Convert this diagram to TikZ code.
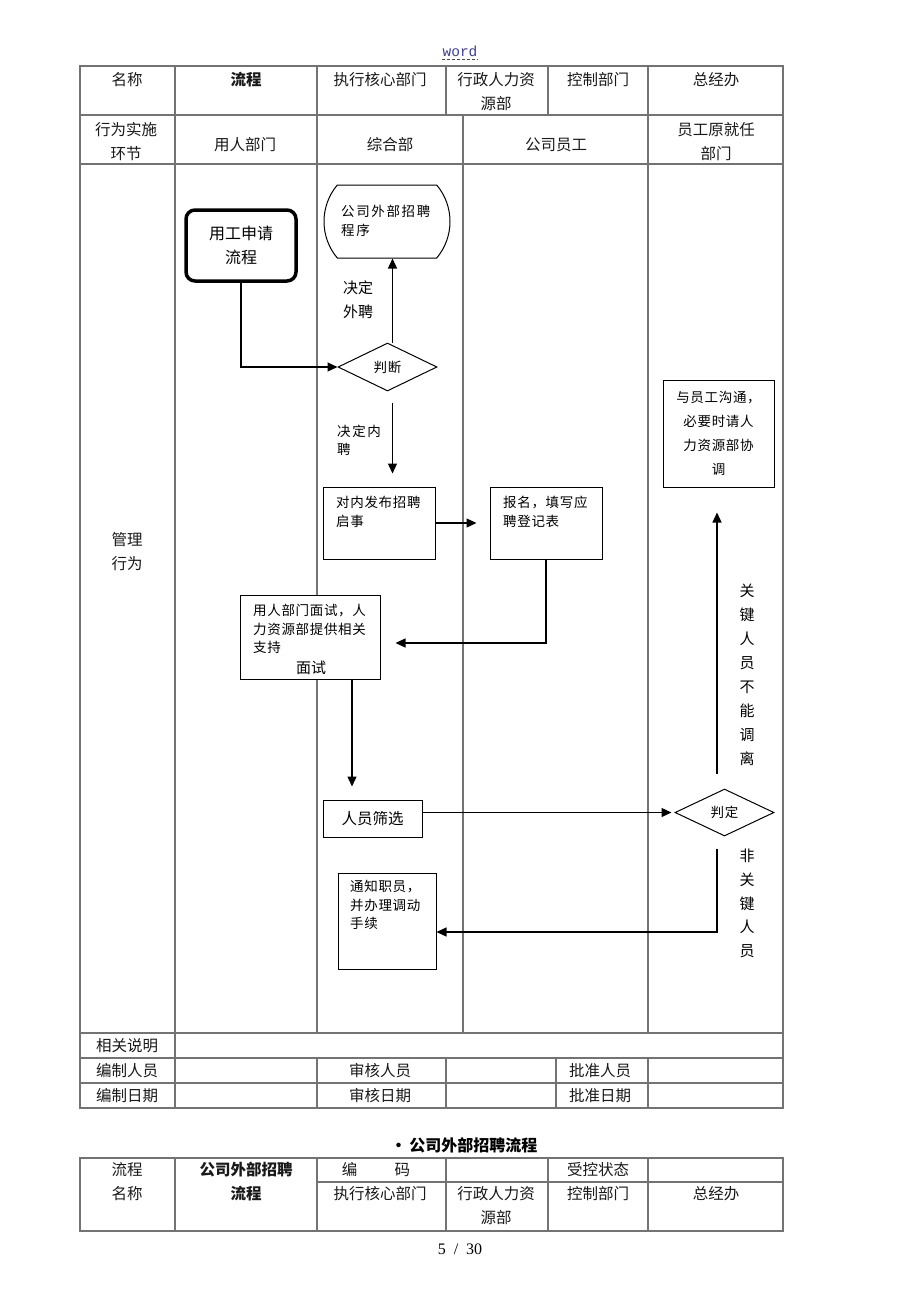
\documentclass[tikz,border=0pt]{standalone}
\usepackage{fontspec}
\setmainfont{Liberation Serif}
\setmonofont{Liberation Mono}
\newfontfamily\hei{Noto Sans CJK SC}
\newfontfamily\song[LetterSpace=5]{Noto Sans CJK SC}
\newfontfamily\songw[LetterSpace=12]{Noto Sans CJK SC}
\usetikzlibrary{arrows.meta, shapes.geometric, shapes.misc, positioning}

\definecolor{wordblue}{RGB}{60,60,160}

\tikzset{
    tblline/.style={draw=black!55, line width=1.1pt},
    cell/.style={inner sep=0pt, align=center, text=black!90, font=\hei\fontsize{15.5}{24}\selectfont},
    boldcell/.style={cell, font=\hei\bfseries\fontsize{15.5}{24}\selectfont},
    box/.style={draw, fill=white, line width=1pt, inner sep=0pt},
    boxtext/.style={anchor=north west, inner sep=0pt, align=left, font=\song\fontsize{13.5}{18.5}\selectfont},
    decide/.style={diamond, draw, fill=white, line width=1pt, inner sep=0pt, font=\song\fontsize{13.5}{15}\selectfont},
    flow/.style={line width=1.3pt, -{Triangle[length=10pt, width=9pt]}},
    sidenote/.style={inner sep=0pt, align=center, font=\hei\fontsize{15}{24}\selectfont},
}

\begin{document}
\begin{tikzpicture}[x=1pt, y=-1pt]
    \fill[white] (0,0) rectangle (920,1302);

    \node[font=\ttfamily\fontsize{14.5}{16}\selectfont, text=wordblue, inner sep=0pt] (mark) at (460,51) {word};
    \draw[wordblue, line width=0.6pt, dash pattern=on 3pt off 2pt] ([yshift=-3pt]mark.south west) -- ([yshift=-3pt]mark.south east);

    \draw[tblline] (80,66) rectangle (783,1108);
    \draw[tblline] (80,115) -- (783,115);
    \draw[tblline] (80,164) -- (783,164);
    \draw[tblline] (80,1033) -- (783,1033);
    \draw[tblline] (80,1058) -- (783,1058);
    \draw[tblline] (80,1083) -- (783,1083);
    \draw[tblline] (175,66) -- (175,1108);
    \draw[tblline] (317,66) -- (317,1033);
    \draw[tblline] (317,1058) -- (317,1108);
    \draw[tblline] (446,66) -- (446,115);
    \draw[tblline] (446,1058) -- (446,1108);
    \draw[tblline] (548,66) -- (548,115);
    \draw[tblline] (556,1058) -- (556,1108);
    \draw[tblline] (463,115) -- (463,1033);
    \draw[tblline] (648,66) -- (648,1033);
    \draw[tblline] (648,1058) -- (648,1108);

    \node[cell] (h1) at (127,80) {名称};
    \node[boldcell] (h2) at (246,80) {流程};
    \node[cell] (h3) at (380,80) {执行核心部门};
    \node[cell] (h4) at (496,92) {行政人力资\\源部};
    \node[cell] (h5) at (598,80) {控制部门};
    \node[cell] (h6) at (716,80) {总经办};
    \node[cell] (r1) at (126,141.5) {行为实施\\环节};
    \node[cell] (r2) at (245,145) {用人部门};
    \node[cell] (r3) at (390,145) {综合部};
    \node[cell] (r4) at (556,145) {公司员工};
    \node[cell] (r5) at (716,141.5) {员工原就任\\部门};
    \node[cell] (gl) at (127,551.5) {管理\\行为};
    \node[cell] (f1) at (127,1046) {相关说明};
    \node[cell] (f2) at (127,1071) {编制人员};
    \node[cell] (f3) at (380,1071) {审核人员};
    \node[cell] (f4) at (600,1071) {批准人员};
    \node[cell] (f5) at (127,1096) {编制日期};
    \node[cell] (f6) at (380,1096) {审核日期};
    \node[cell] (f7) at (600,1096) {批准日期};

    \node[box, rounded corners=9pt, line width=3.5pt, minimum width=110pt, minimum height=71pt, align=center, font=\hei\fontsize{16}{24}\selectfont] (yg) at (241,245.5) {用工申请\\流程};
    \node[box, rounded rectangle, rounded rectangle arc length=80, minimum width=126pt, minimum height=73pt] (wb) at (387,221.5) {};
    \node[boxtext, font=\songw\fontsize{13.5}{18.5}\selectfont] (wbt) at (341,205) {公司外部招聘\\程序};
    \node[decide, minimum width=99pt, minimum height=48pt] (pd) at (387.5,367) {判断};
    \node[box, minimum width=112pt, minimum height=72pt] (nb) at (379,523) {};
    \node[boxtext] (nbt) at (336,496) {对内发布招聘\\启事};
    \node[box, minimum width=112pt, minimum height=72pt] (bm) at (546,523) {};
    \node[boxtext] (bmt) at (503,496) {报名，填写应\\聘登记表};
    \node[box, minimum width=140pt, minimum height=84pt] (ms) at (310,637) {};
    \node[boxtext] (mst) at (253,604) {用人部门面试，人\\力资源部提供相关\\支持};
    \node[inner sep=0pt, font=\hei\fontsize{15}{18}\selectfont] (msl) at (311,668) {面试};
    \node[box, minimum width=99pt, minimum height=37pt, font=\hei\fontsize{15.5}{18}\selectfont] (rs) at (372.5,818.5) {人员筛选};
    \node[decide, minimum width=99pt, minimum height=47pt] (pd2) at (724.5,812.5) {判定};
    \node[box, minimum width=111pt, minimum height=107pt, align=center, font=\song\fontsize{13.5}{24}\selectfont] (gt) at (718.5,433.5) {与员工沟通，\\必要时请人\\力资源部协\\调};
    \node[box, minimum width=98pt, minimum height=96pt] (tz) at (387,921) {};
    \node[boxtext] (tzt) at (350,880) {通知职员，\\并办理调动\\手续};

    \node[sidenote] (wp) at (358,300) {决定\\外聘};
    \node[boxtext, font=\songw\fontsize{13.5}{18}\selectfont] (np) at (337,425) {决定内\\聘};
    \node[sidenote] (kr) at (747,675) {关\\键\\人\\员\\不\\能\\调\\离};
    \node[sidenote, font=\hei\fontsize{15}{23.75}\selectfont] (fk) at (747,903.5) {非\\关\\键\\人\\员};

    \draw[flow] (yg.south) |- (pd.west);
    \draw[flow] ([xshift=5pt]pd.north) -- ([xshift=5pt]pd.north |- wb.south);
    \draw[flow, shorten >=13pt] ([xshift=5pt, yshift=-11pt]pd.south) -- ([xshift=5pt]pd.south |- nb.north);
    \draw[flow, shorten >=13pt] (nb.east) -- (bm.west);
    \draw[flow, shorten >=15pt] (bm.south) |- ([yshift=-6pt]ms.east);
    \draw[flow, shorten >=13pt] ([xshift=42pt]ms.south) -- ([xshift=42pt]ms.south |- rs.north);
    \draw[flow, shorten >=3pt] ([yshift=6pt]rs.east) -- ([yshift=6pt]rs.east -| pd2.west);
    \draw[flow, shorten >=25pt] ([xshift=-7.5pt, yshift=15pt]pd2.north) -- ([xshift=-7.5pt]pd2.north |- gt.south);
    \draw[flow] ([xshift=-7.5pt, yshift=-12pt]pd2.south) |- ([yshift=-11pt]tz.east);

    \node[font=\hei\bfseries\fontsize{16}{20}\selectfont, inner sep=0pt] (sub) at (464,1145) {·\,公司外部招聘流程};
    \draw[tblline] (80,1158) rectangle (783,1231);
    \draw[tblline] (317,1182) -- (783,1182);
    \draw[tblline] (175,1158) -- (175,1231);
    \draw[tblline] (317,1158) -- (317,1231);
    \draw[tblline] (446,1158) -- (446,1231);
    \draw[tblline] (548,1158) -- (548,1231);
    \draw[tblline] (648,1158) -- (648,1231);

    \node[cell] (g1) at (127,1182) {流程\\名称};
    \node[boldcell] (g2) at (246,1182) {公司外部招聘\\流程};
    \node[cell] (g3) at (376,1170) {编\hspace{2.4em}码};
    \node[cell] (g4) at (598,1170) {受控状态};
    \node[cell] (g5) at (380,1194) {执行核心部门};
    \node[cell] (g6) at (496,1206) {行政人力资\\源部};
    \node[cell] (g7) at (598,1194) {控制部门};
    \node[cell] (g8) at (716,1194) {总经办};

    \node[font=\fontsize{16}{18}\selectfont, inner sep=0pt] (pg) at (460,1249) {5\ \ /\ \ 30};
\end{tikzpicture}
\end{document}
